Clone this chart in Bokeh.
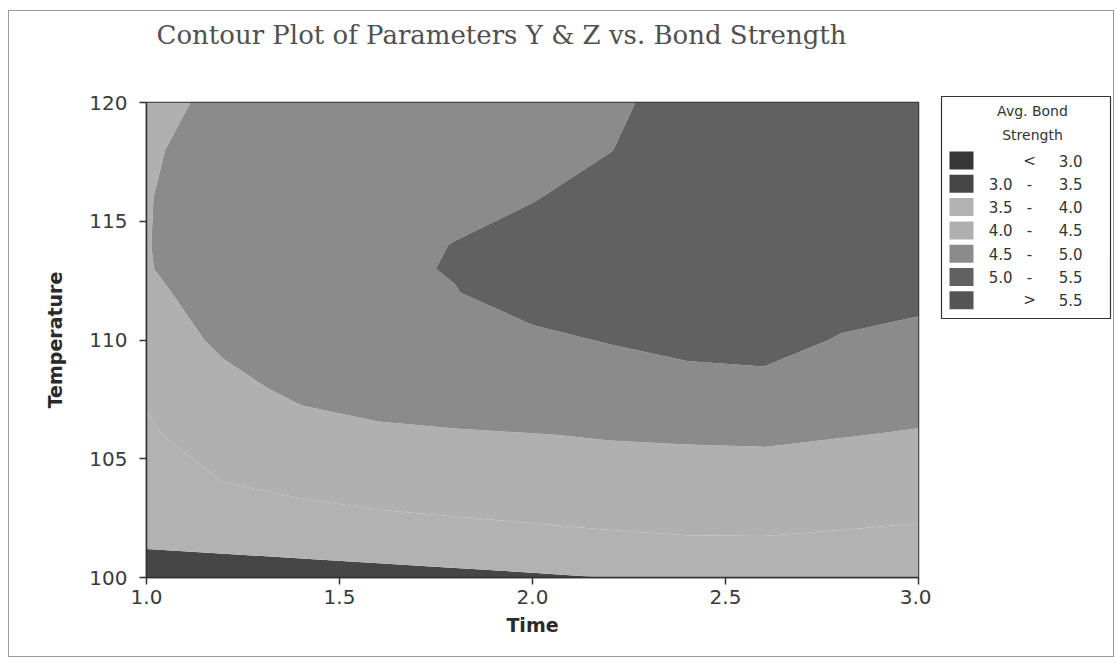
import numpy as np
from bokeh.plotting import figure
from bokeh.layouts import row
from bokeh.models import Range1d, FixedTicker, PrintfTickFormatter, ColumnDataSource, Title
from bokeh.core.properties import value
from bokeh.embed import file_html
from bokeh.resources import INLINE

# ---------------- data ----------------
title_text = "Contour Plot of Parameters Y & Z vs. Bond Strength"
x_label = "Time"
y_label = "Temperature"
legend_title = ["Avg. Bond", "Strength"]

time_grid = [1.0, 1.2, 1.4, 1.6, 1.8, 2.0, 2.2, 2.4, 2.6, 2.8, 3.0]
temp_grid = [100, 102, 104, 106, 108, 110, 112, 113, 114, 116, 118, 120]

# estimated avg. bond strength, one list per Time column (bottom -> top in Temperature)
z_t100 = [3.20, 3.70, 3.85, 3.95, 4.05, 4.20, 4.38, 4.47, 4.48, 4.47, 4.42, 4.30]
z_t120 = [3.25, 3.75, 4.00, 4.20, 4.35, 4.60, 4.75, 4.78, 4.80, 4.80, 4.75, 4.65]
z_t140 = [3.30, 3.80, 4.10, 4.30, 4.62, 4.75, 4.82, 4.84, 4.85, 4.85, 4.82, 4.78]
z_t160 = [3.35, 3.85, 4.20, 4.42, 4.70, 4.82, 4.90, 4.94, 4.90, 4.92, 4.88, 4.84]
z_t180 = [3.40, 3.90, 4.25, 4.46, 4.75, 4.88, 4.99, 5.02, 5.01, 4.90, 4.86, 4.84]
z_t200 = [3.45, 3.95, 4.30, 4.49, 4.78, 4.93, 5.15, 5.18, 5.15, 4.98, 4.90, 4.85]
z_t220 = [3.505, 4.00, 4.35, 4.52, 4.80, 5.02, 5.20, 5.22, 5.22, 5.15, 4.99, 4.90]
z_t240 = [3.60, 4.05, 4.38, 4.53, 4.90, 5.08, 5.25, 5.28, 5.30, 5.30, 5.20, 5.20]
z_t260 = [3.65, 4.05, 4.38, 4.54, 4.92, 5.10, 5.28, 5.32, 5.35, 5.35, 5.30, 5.25]
z_t280 = [3.65, 4.00, 4.35, 4.51, 4.80, 4.98, 5.12, 5.22, 5.30, 5.35, 5.35, 5.30]
z_t300 = [3.60, 3.95, 4.30, 4.48, 4.62, 4.92, 5.08, 5.17, 5.25, 5.30, 5.30, 5.30]

levels = [3.0, 3.5, 4.0, 4.5, 5.0, 5.5]
band_colors = ["#363636", "#464646", "#b2b2b2", "#b0b0b0", "#8b8b8b", "#616161", "#545454"]

x_ticks = [1.0, 1.5, 2.0, 2.5, 3.0]
y_ticks = [100, 105, 110, 115, 120]

# ---------------- main plot ----------------
Z = np.array([z_t100, z_t120, z_t140, z_t160, z_t180, z_t200,
              z_t220, z_t240, z_t260, z_t280, z_t300]).T  # shape (ny, nx)

all_levels = [2.0] + levels + [6.5]

p = figure(width=922, height=645, output_backend="svg", toolbar_location=None,
           x_range=Range1d(1.0, 3.0), y_range=Range1d(100, 120), title=None,
           min_border_left=137, min_border_right=13, min_border_top=91, min_border_bottom=79)
p.frame_align = False

p.contour(x=time_grid, y=temp_grid, z=Z, levels=all_levels,
          fill_color=band_colors, line_color=None)

# spacer between title and frame (closest to the frame), then the title itself
spacer = Title(text=" ", text_font_size="1px", standoff=50)
p.add_layout(spacer, "above")
main_title = Title(text=title_text, text_font="DejaVu Serif", text_font_size="26px",
                   text_font_style="normal", text_color="#505050",
                   align="left", offset=10, standoff=0, vertical_align="bottom")
p.add_layout(main_title, "above")

p.xgrid.visible = False
p.ygrid.visible = False
p.outline_line_color = "#333333"
p.outline_line_width = 1.5
p.background_fill_color = "white"

p.xaxis.ticker = FixedTicker(ticks=x_ticks)
p.xaxis.formatter = PrintfTickFormatter(format="%.1f")
p.yaxis.ticker = FixedTicker(ticks=y_ticks)
for ax in (p.xaxis, p.yaxis):
    ax.axis_line_color = "#333333"
    ax.axis_line_width = 1.5
    ax.major_tick_line_color = "#333333"
    ax.major_tick_line_width = 1.5
    ax.major_tick_in = 0
    ax.major_tick_out = 7
    ax.minor_tick_line_color = None
    ax.major_label_text_font = "DejaVu Sans"
    ax.major_label_text_font_size = "20px"
    ax.major_label_text_color = "#3a3a3a"
    ax.axis_label_text_font = "DejaVu Sans"
    ax.axis_label_text_font_size = "19px"
    ax.axis_label_text_font_style = "bold"
    ax.axis_label_text_color = "#2a2a2a"
p.xaxis.axis_label = x_label
p.yaxis.axis_label = y_label
p.xaxis.major_label_standoff = 5
p.xaxis.axis_label_standoff = 7
p.yaxis.major_label_standoff = 12
p.yaxis.axis_label_standoff = 20

# ---------------- legend panel ----------------
q = figure(width=182, height=645, output_backend="svg", toolbar_location=None,
           x_range=Range1d(0, 182), y_range=Range1d(645, 0),
           x_axis_type=None, y_axis_type=None, min_border=0)
q.frame_align = False
q.grid.visible = False
q.outline_line_color = None

q.quad(left=[10], right=[179], top=[85], bottom=[307],
       fill_color="white", line_color="#333333", line_width=1.2)

n = len(band_colors)
row_y = [149 + 23.3 * i for i in range(n)]
left_txt = [""] + [f"{v:.1f}" for v in levels[:-1]] + [""]
mid_txt = ["<"] + ["-"] * (len(levels) - 1) + [">"]
right_txt = [f"{levels[0]:.1f}"] + [f"{v:.1f}" for v in levels[1:]] + [f"{levels[-1]:.1f}"]

src = ColumnDataSource(dict(y=row_y, color=band_colors, left=left_txt, mid=mid_txt, right=right_txt,
                            sx=[30] * n, lx=[81] * n, mx=[98] * n, rx=[151] * n))
q.rect(x="sx", y="y", width=24, height=18, fill_color="color", line_color=None, source=src)
q.text(x="lx", y="y", text="left", source=src, text_align="right", text_baseline="middle",
       text_font=value("DejaVu Sans"), text_font_size="15px", text_color="#333333")
q.text(x="mx", y="y", text="mid", source=src, text_align="center", text_baseline="middle",
       text_font=value("DejaVu Sans"), text_font_size="15px", text_color="#333333")
q.text(x="rx", y="y", text="right", source=src, text_align="right", text_baseline="middle",
       text_font=value("DejaVu Sans"), text_font_size="15px", text_color="#333333")
q.text(x=[101, 101], y=[99, 123], text=legend_title, text_align="center", text_baseline="middle",
       text_font=value("DejaVu Sans"), text_font_size="14px", text_color="#333333")

layout = row(p, q)
layout.margin = (10, 0, 0, 8)
layout.styles = {"border": "1px solid #9a9a9a"}

open("out.html", "w").write(file_html(layout, INLINE))
